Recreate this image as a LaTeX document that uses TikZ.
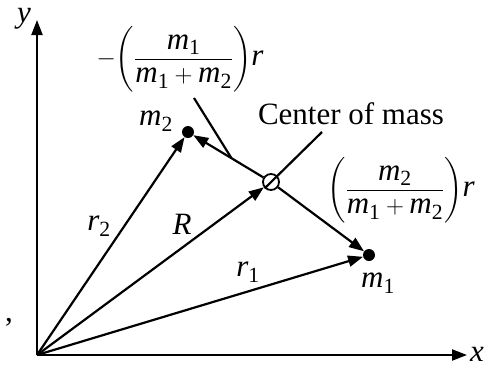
\documentclass[tikz,border=0pt]{standalone}
\usepackage{amsmath}
\usepackage{graphicx}
\usepackage{fontspec}
\setmainfont{Liberation Serif}
\usetikzlibrary{arrows.meta,calc}
\newcommand\vi[1]{\text{\itshape #1}}
\newcommand\ms[1]{\vi{m}_{\text{#1}}}
\newcommand\lpar{\scalebox{1}[1.1]{$\biggl($}}
\newcommand\rpar{\scalebox{1}[1.1]{$\biggr)$}}
\begin{document}
\begin{tikzpicture}[x=1pt,y=-1pt,
  font=\fontsize{31}{36}\selectfont,
  vec/.style={line width=2.2pt,-{Triangle[length=15pt,width=11pt]}},
  plain/.style={line width=2.2pt},
  massdot/.style={circle,fill,inner sep=0pt,minimum size=12pt},
  cmark/.style={circle,draw,line width=1.8pt,inner sep=0pt,minimum size=16pt},
  lbl/.style={inner sep=0pt}]
\useasboundingbox (0,0) rectangle (485,368);
% points
\coordinate (O) at (37,355);
\coordinate (ytip) at (37,20);
\coordinate (xtip) at (467,355);
\node[massdot] (m1) at (369,255) {};
\node[massdot] (m2) at (188,132) {};
\node[cmark] (cm) at (271,182) {};
\coordinate (cmtip) at (322,132);
\coordinate (p2) at ($(cm.center)!0.476!(m2.center)$);
% axes
\draw[vec] (O) -- (ytip);
\draw[vec] (O) -- (xtip);
% vectors
\draw[vec] (O) -- (m2);
\draw[vec] (O) -- (cm);
\draw[vec] (O) -- (m1);
\draw[vec] (cm) -- (m2);
\draw[vec] (cm) -- (m1);
% pointer lines
\draw[plain] (cm.225) -- (cmtip);
% labels
\node[lbl] (ylab) at (24,19) {\vi{y}};
\node[lbl] (xlab) at (477,354) {\vi{x}};
\node[lbl] (comma) at (9,322) {,};
\node[lbl] (lm2) at (156,121) {$\ms{2}$};
\node[lbl] (lm1) at (378,283) {$\ms{1}$};
\node[lbl] (lr2) at (99,226) {$\vi{r}_{\text{2}}$};
\node[lbl] (lR) at (182,224) {\vi{R}};
\node[lbl] (lr1) at (248,272) {$\vi{r}_{\text{1}}$};
\node[lbl] (lcm) at (351,114) {Center of mass};
\node[lbl] (f1) at (180,59) {$-\lpar\dfrac{\ms{1}}{\ms{1}+\ms{2}}\rpar\vi{r}$};
\node[lbl] (f2) at (401,190) {$\lpar\dfrac{\ms{2}}{\ms{1}+\ms{2}}\rpar\vi{r}$};
\coordinate (p1) at (194,98);
\draw[plain] (p1) -- (p2);
\end{tikzpicture}
\end{document}
